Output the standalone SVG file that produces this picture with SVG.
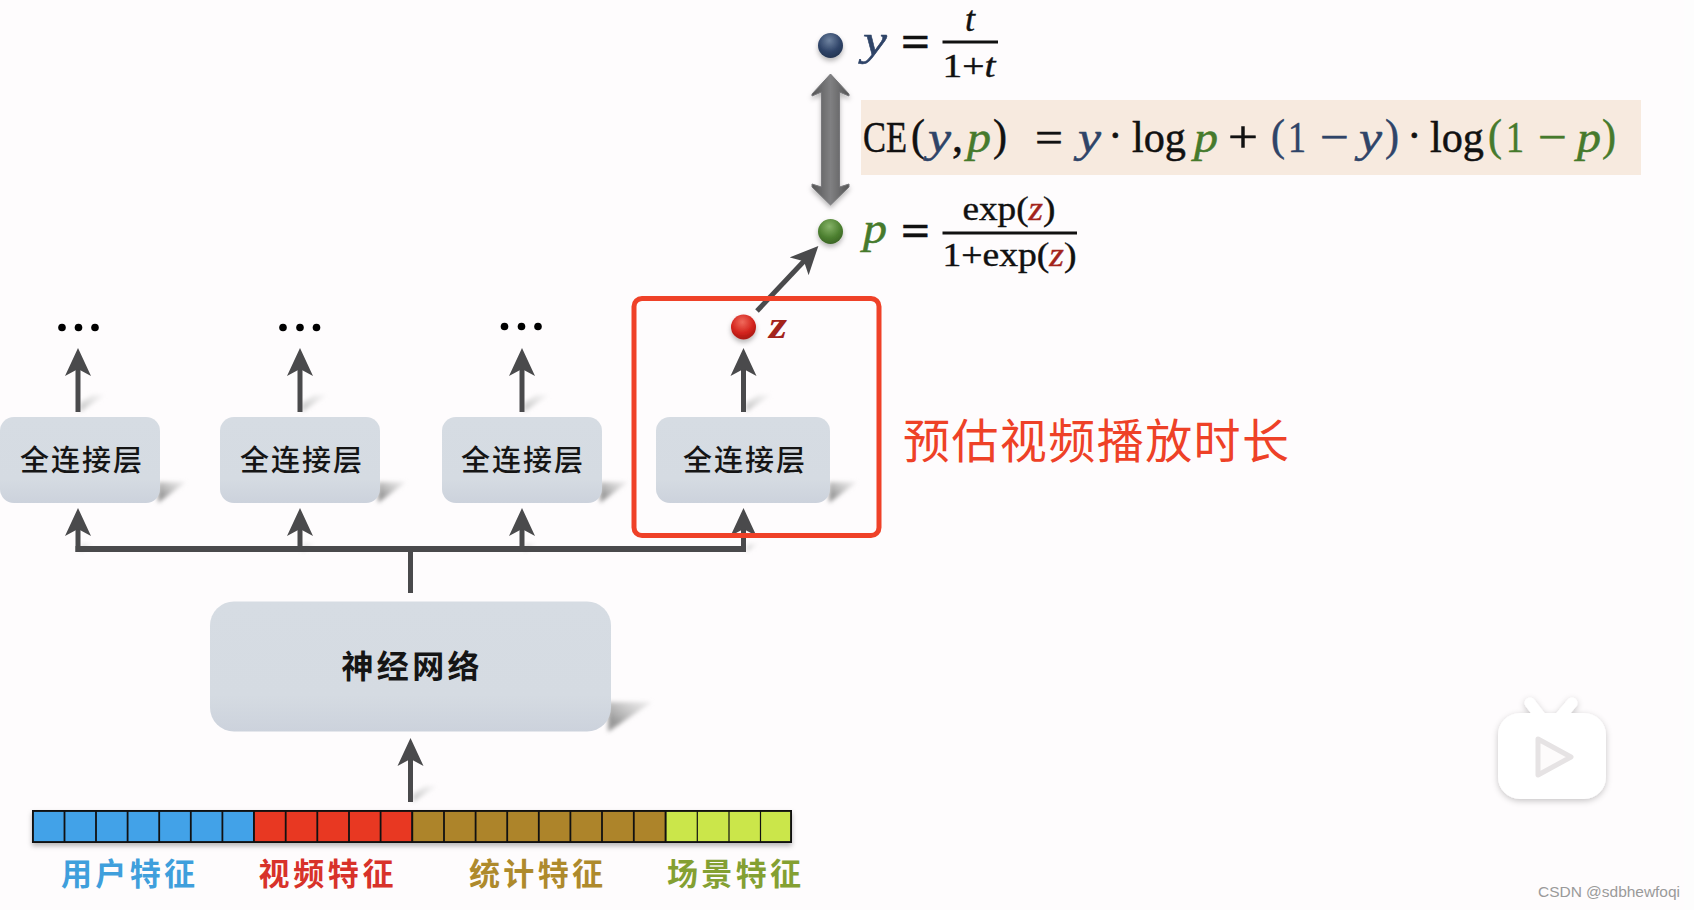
<svg xmlns="http://www.w3.org/2000/svg" width="1694" height="910" viewBox="0 0 1694 910">
<style>
.m{font-family:"Liberation Serif","Noto Serif",serif;font-size:44px;fill:#111;stroke:#111;stroke-width:.5px}
.f{font-family:"Liberation Serif",serif;font-size:33px;fill:#111;stroke:#111;stroke-width:.4px}
.i{font-style:italic}
.m.b,.b{fill:#2f4468;stroke:#2f4468}.m.g,.g{fill:#467a2c;stroke:#467a2c}.r{fill:#a3241c;stroke:#a3241c}
.box{fill:url(#boxG)}
.cn{font-family:"Noto Sans CJK SC","Noto Sans",sans-serif;font-size:29px;font-weight:500;fill:#151515;text-anchor:middle;dominant-baseline:central}
.lab{font-family:"Noto Sans CJK SC","Noto Sans",sans-serif;font-size:31px;font-weight:700;text-anchor:middle;dominant-baseline:central}
.st{stroke:#4a4a4c;stroke-width:5;fill:none}
.dot{fill:#000}
.sh{fill:url(#shG);filter:url(#bl)}
.sl{fill:url(#slG);filter:url(#bl)}
</style>
<defs>
<linearGradient id="boxG" x1="0" y1="0" x2="0" y2="1"><stop offset="0" stop-color="#d6dce3"/><stop offset="0.72" stop-color="#d5dbe2"/><stop offset="1" stop-color="#ccd2dc"/></linearGradient>
<linearGradient id="shG" x1="0" y1="1" x2="1" y2="0"><stop offset="0.25" stop-color="#9a9a9a"/><stop offset="1" stop-color="#d2d2d2" stop-opacity="0.35"/></linearGradient>
<linearGradient id="slG" x1="0" y1="1" x2="1" y2="0"><stop offset="0.1" stop-color="#c6c6c6"/><stop offset="1" stop-color="#e4e4e4" stop-opacity="0.3"/></linearGradient>
<linearGradient id="shaft" x1="0" y1="0" x2="1" y2="0"><stop offset="0" stop-color="#555"/><stop offset="0.5" stop-color="#808082"/><stop offset="1" stop-color="#555"/></linearGradient>
<radialGradient id="sb" cx="0.45" cy="0.3" r="0.75"><stop offset="0" stop-color="#6f83a0"/><stop offset="0.6" stop-color="#2f4468"/><stop offset="1" stop-color="#22324e"/></radialGradient>
<radialGradient id="sg" cx="0.45" cy="0.3" r="0.75"><stop offset="0" stop-color="#86b368"/><stop offset="0.6" stop-color="#4d8030"/><stop offset="1" stop-color="#386024"/></radialGradient>
<radialGradient id="sr" cx="0.45" cy="0.3" r="0.75"><stop offset="0" stop-color="#f06a5c"/><stop offset="0.6" stop-color="#d3231c"/><stop offset="1" stop-color="#9d1711"/></radialGradient>
<filter id="bl" x="-30%" y="-30%" width="160%" height="160%"><feGaussianBlur stdDeviation="2"/></filter>
<filter id="dsh" x="-20%" y="-20%" width="140%" height="150%"><feDropShadow dx="0" dy="3" stdDeviation="2.5" flood-color="#000" flood-opacity="0.28"/></filter>
<filter id="tv" x="-20%" y="-20%" width="140%" height="140%"><feDropShadow dx="0" dy="2" stdDeviation="3" flood-color="#000" flood-opacity="0.22"/></filter>
<marker id="ah" markerUnits="userSpaceOnUse" viewBox="0 0 28 27" markerWidth="28" markerHeight="27" refX="10" refY="13.5" orient="auto"><path d="M0,0.5 L28,13.5 L0,26.5 L7,13.5 Z" fill="#4a4a4c"/></marker>
</defs>
<rect width="1694" height="910" fill="#fefcfd"/>
<rect x="1684" width="10" height="910" fill="#fdfdfd"/>

<g id="shadows">
<path class="sh" d="M158,503 L186,482 L158,482 Z"/>
<path class="sh" d="M378,503 L406,482 L378,482 Z"/>
<path class="sh" d="M600,503 L628,482 L600,482 Z"/>
<path class="sh" d="M829,503 L857,482 L829,482 Z"/>
<path class="sh" d="M608,732 L652,702 L608,702 Z"/>
<path class="sl" d="M80,412 L105,395 L92,395 L80,403 Z"/>
<path class="sl" d="M302,412 L327,395 L314,395 L302,403 Z"/>
<path class="sl" d="M524,412 L549,395 L536,395 L524,403 Z"/>
<path class="sl" d="M746,412 L771,395 L758,395 L746,403 Z"/>
<path class="sl" d="M413,802 L437,786 L425,786 L413,794 Z"/>
<path class="sl" d="M80,552 L92,544 L82,544 Z"/>
<path class="sl" d="M302,552 L314,544 L304,544 Z"/>
<path class="sl" d="M524,552 L536,544 L526,544 Z"/>
<path class="sl" d="M746,552 L758,544 L748,544 Z"/>
</g>

<g id="highlight"><rect x="861" y="100" width="780" height="75" fill="#f7eadf"/></g>

<g id="connectors">
<path class="st" style="stroke-width:6" d="M75.5,549 H746"/>
<path class="st" d="M410.5,549 V593"/>
<path class="st" d="M78,412 V366" marker-end="url(#ah)"/>
<path class="st" d="M300,412 V366" marker-end="url(#ah)"/>
<path class="st" d="M522,412 V366" marker-end="url(#ah)"/>
<path class="st" d="M743.5,412 V366" marker-end="url(#ah)"/>
<path class="st" d="M78,552 V526" marker-end="url(#ah)"/>
<path class="st" d="M300,552 V526" marker-end="url(#ah)"/>
<path class="st" d="M522,552 V526" marker-end="url(#ah)"/>
<path class="st" d="M410.5,802 V756" marker-end="url(#ah)"/>
<path class="st" d="M757,311 L806,259" marker-end="url(#ah)"/>
<path id="doubleArrow" fill="url(#shaft)" stroke="#77777a" stroke-width="1" filter="url(#dsh)" d="M830.5,74 L849,94 V96 L839.5,92 V187 L849,184 V187 L830.5,205 L812,187 V184 L821.5,187 V92 L812,96 V94 Z"/>
</g>

<g id="node-y">
<circle cx="830.5" cy="45.500" r="12.5" fill="url(#sb)" filter="url(#dsh)"/>
<text class="m i b" x="863" y="55" textLength="24" lengthAdjust="spacingAndGlyphs">y</text>
<text class="m" x="901" y="56" textLength="29" lengthAdjust="spacingAndGlyphs" style="font-weight:700">=</text>
<text class="f i" x="970" y="31" text-anchor="middle" style="font-size:36px">t</text>
<rect x="942.5" y="40.500" width="55.500" height="3" fill="#111"/>
<text class="f" x="942.500" y="77" textLength="53" lengthAdjust="spacingAndGlyphs">1+<tspan class="i">t</tspan></text>
</g>

<g id="node-ce">
<text class="m" transform="translate(863,152) scale(.783,1)">CE</text>
<text class="m" x="911" y="150" textLength="14" lengthAdjust="spacingAndGlyphs">(</text>
<text class="m i b" x="928" y="152" textLength="23" lengthAdjust="spacingAndGlyphs">y</text>
<text class="m" x="952" y="152">,</text>
<text class="m i g" x="967" y="152" textLength="24" lengthAdjust="spacingAndGlyphs">p</text>
<text class="m" x="993" y="150" textLength="14" lengthAdjust="spacingAndGlyphs">)</text>
<text class="m" x="1035" y="152" textLength="28" lengthAdjust="spacingAndGlyphs">=</text>
<text class="m i b" x="1078" y="152" textLength="23" lengthAdjust="spacingAndGlyphs">y</text>
<text class="m" x="1108" y="150">·</text>
<text class="m" x="1132" y="152" textLength="54" lengthAdjust="spacingAndGlyphs">log</text>
<text class="m i g" x="1194" y="152" textLength="24" lengthAdjust="spacingAndGlyphs">p</text>
<text class="m" x="1228" y="152" textLength="30" lengthAdjust="spacingAndGlyphs">+</text>
<text class="m b" x="1271" y="150" textLength="14" lengthAdjust="spacingAndGlyphs">(</text>
<text class="m b" x="1288" y="152" textLength="18" lengthAdjust="spacingAndGlyphs">1</text>
<text class="m b" x="1320" y="152" textLength="29" lengthAdjust="spacingAndGlyphs">−</text>
<text class="m i b" x="1359" y="152" textLength="23" lengthAdjust="spacingAndGlyphs">y</text>
<text class="m b" x="1385" y="150" textLength="14" lengthAdjust="spacingAndGlyphs">)</text>
<text class="m" x="1407" y="150">·</text>
<text class="m" x="1430" y="152" textLength="54" lengthAdjust="spacingAndGlyphs">log</text>
<text class="m g" x="1488" y="150" textLength="14" lengthAdjust="spacingAndGlyphs">(</text>
<text class="m g" x="1506" y="152" textLength="18" lengthAdjust="spacingAndGlyphs">1</text>
<text class="m g" x="1538" y="152" textLength="29" lengthAdjust="spacingAndGlyphs">−</text>
<text class="m i g" x="1577" y="152" textLength="24" lengthAdjust="spacingAndGlyphs">p</text>
<text class="m g" x="1602" y="150" textLength="14" lengthAdjust="spacingAndGlyphs">)</text>
</g>

<g id="node-p">
<circle cx="830.5" cy="231.500" r="12.5" fill="url(#sg)" filter="url(#dsh)"/>
<text class="m i g" x="863" y="243" textLength="24" lengthAdjust="spacingAndGlyphs">p</text>
<text class="m" x="901" y="245" textLength="29" lengthAdjust="spacingAndGlyphs" style="font-weight:700">=</text>
<text class="f" x="962.500" y="220" textLength="93" lengthAdjust="spacingAndGlyphs">exp(<tspan class="i r">z</tspan>)</text>
<rect x="942.5" y="231.500" width="134.500" height="3" fill="#111"/>
<text class="f" x="942.500" y="265.500" textLength="134" lengthAdjust="spacingAndGlyphs">1+exp(<tspan class="i r">z</tspan>)</text>
</g>

<g id="dots1" class="dot"><circle cx="62" cy="327.500" r="3.800"/><circle cx="78.500" cy="327.500" r="3.800"/><circle cx="95" cy="327.500" r="3.800"/></g>
<g id="dots2" class="dot"><circle cx="283" cy="327.500" r="3.800"/><circle cx="300" cy="327.500" r="3.800"/><circle cx="316.500" cy="327.500" r="3.800"/></g>
<g id="dots3" class="dot"><circle cx="504.500" cy="326.500" r="3.800"/><circle cx="521.500" cy="326.500" r="3.800"/><circle cx="538" cy="326.500" r="3.800"/></g>

<g id="node-z">
<circle cx="743.5" cy="327" r="12.500" fill="url(#sr)" filter="url(#dsh)"/>
<text x="769" y="338" style="font-family:'Liberation Serif',serif;font-size:38px;font-style:italic;font-weight:700;fill:#a3241c" textLength="18" lengthAdjust="spacingAndGlyphs">z</text>
</g>

<g id="fc1"><rect class="box" x="0" y="417" width="160" height="86" rx="14"/><text class="cn" x="81" y="458" textLength="122">全连接层</text></g>
<g id="fc2"><rect class="box" x="220" y="417" width="160" height="86" rx="14"/><text class="cn" x="301" y="458" textLength="122">全连接层</text></g>
<g id="fc3"><rect class="box" x="442" y="417" width="160" height="86" rx="14"/><text class="cn" x="522" y="458" textLength="122">全连接层</text></g>
<g id="fc4"><rect class="box" x="656" y="417" width="174" height="86" rx="14"/><text class="cn" x="744" y="458" textLength="122">全连接层</text></g>
<g id="nn"><rect class="box" x="210" y="601.500" width="401" height="130" rx="24"/><text class="cn" x="410.5" y="664" textLength="138" style="font-size:32px;font-weight:700">神经网络</text></g>

<path class="st" d="M743.5,552 V526" marker-end="url(#ah)"/>
<g id="selection">
<rect x="634" y="298.500" width="245" height="237" rx="8" fill="none" stroke="#ef4128" stroke-width="5"/>
<text x="903" y="458" style="font-family:'Noto Sans CJK SC','Noto Sans',sans-serif;font-size:47px;fill:#ee4127" textLength="386">预估视频播放时长</text>
</g>

<g id="features">
<g filter="url(#dsh)">
<rect x="32" y="810" width="760" height="33" fill="#111"/>
</g>
<g stroke="#111" stroke-width="1.800">
<rect x="33" y="811" width="221" height="31" fill="#42a2e8"/>
<rect x="254" y="811" width="158.300" height="31" fill="#e83822"/>
<rect x="412.300" y="811" width="253.400" height="31" fill="#ad842a"/>
<rect x="665.700" y="811" width="125.300" height="31" fill="#cbe64a"/>
<path fill="none" d="M64.500,811V842M96,811V842M127.600,811V842M159.200,811V842M190.800,811V842M222.400,811V842M285.700,811V842M317.300,811V842M349,811V842M380.600,811V842M444,811V842M475.600,811V842M507.200,811V842M538.800,811V842M570.400,811V842M602,811V842M633.800,811V842"/>
<path fill="none" stroke-width="1.200" d="M697.300,811V842M729,811V842M760.500,811V842"/>
</g>
<text class="lab" x="128" y="871" textLength="134" style="fill:#3f9fdc">用户特征</text>
<text class="lab" x="326" y="871" textLength="135" style="fill:#d8322a">视频特征</text>
<text class="lab" x="536" y="871" textLength="134" style="fill:#ae8a2c">统计特征</text>
<text class="lab" x="734" y="871" textLength="134" style="fill:#84a032">场景特征</text>
</g>

<g id="tv-icon" filter="url(#tv)">
<path d="M1530,703 L1540,716 M1572,703 L1561,716" stroke="#fff" stroke-width="11" stroke-linecap="round" fill="none"/>
<rect x="1498" y="713" width="108" height="86" rx="22" fill="#fff"/>
</g>
<path id="tv-play" d="M1538,739 L1571,757 L1538,775 Z" fill="#fdfbfb" stroke="#e6e3e4" stroke-width="5" stroke-linejoin="round"/>
<text id="wm" x="1538" y="897" style="font-family:'Liberation Sans',sans-serif;font-size:15.500px;fill:#9a9a9a" textLength="142">CSDN @sdbhewfoqi</text>
</svg>
